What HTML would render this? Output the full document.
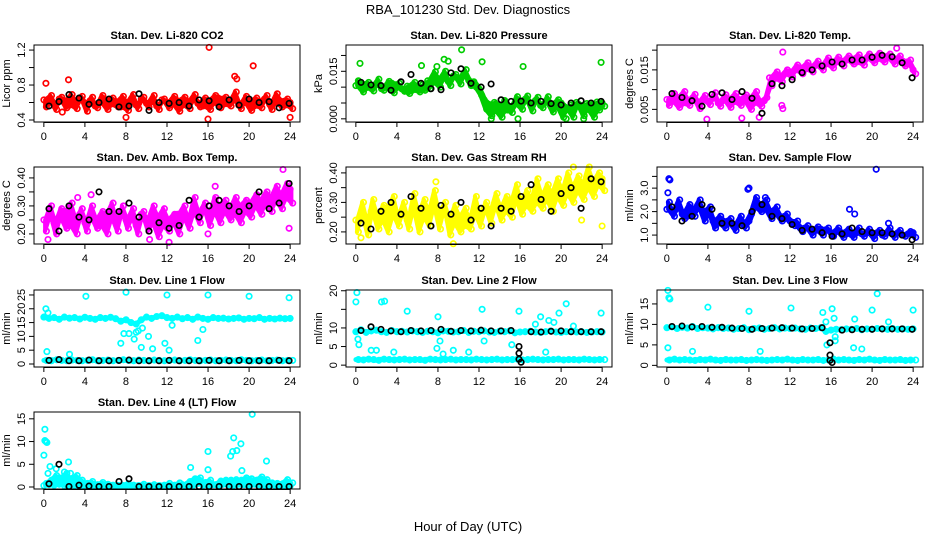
<!DOCTYPE html>
<html><head><meta charset="utf-8">
<style>
body{margin:0;background:#fff;}
svg{display:block;font-family:"Liberation Sans",sans-serif;}
</style></head>
<body>
<svg id="chart" width="936" height="540" viewBox="0 0 936 540" xmlns="http://www.w3.org/2000/svg">
<rect width="936" height="540" fill="#fff"/>
<text x="468" y="14" text-anchor="middle" font-size="13">RBA_101230  Std. Dev. Diagnostics</text>
<text x="468" y="531" text-anchor="middle" font-size="13">Hour of Day (UTC)</text>
<g id="panels"></g>
</svg>
<script>
const xTicks=[0,4,8,12,16,20,24];
// CO2
const co2A=[0.63,0.60,0.58,0.64,0.62,0.57,0.61,0.65,0.59,0.62,0.56,0.60,0.63,0.58,0.61,0.55,0.60,0.62,0.57,0.64,0.59,0.61,0.56,0.63,0.60,0.58,0.62,0.57,0.61,0.64,0.59,0.56,0.62,0.60,0.65,0.58,0.61,0.63,0.57,0.60,0.62,0.56,0.61,0.64,0.58,0.60,0.62,0.57,0.60];
const co2B=[0.55,0.68,0.52,0.66,0.54,0.69,0.53,0.67,0.50,0.66,0.54,0.68,0.52,0.65,0.55,0.67,0.51,0.69,0.53,0.66,0.55,0.68,0.52,0.64,0.54,0.67,0.50,0.66,0.53,0.69,0.55,0.65,0.52,0.68,0.54,0.66,0.56,0.72,0.53,0.67,0.51,0.65,0.54,0.68,0.52,0.70,0.55,0.64,0.53];
const co2Out=[[0.2,0.82],[2.4,0.86],[16.1,1.23],[20.4,1.02],[18.6,0.90],[18.8,0.87],[16,0.41],[24,0.43],[8,0.43],[1.8,0.49]];
const co2Black=[0.56,0.61,0.69,0.65,0.58,0.60,0.64,0.55,0.56,0.70,0.51,0.60,0.59,0.60,0.56,0.63,0.62,0.55,0.63,0.57,0.64,0.60,0.61,0.54,0.59];
const co2Ticks=[0.4,0.6,0.8,1.0,1.2];const co2Labels=["0.4","","0.8","","1.2"];
// Pressure
const prA=[.0105,.0110,.0098,.0102,.0108,.0095,.0100,.0112,.0099,.0094,.0103,.0090,.0098,.0108,.0120,.0115,.0125,.0130,.0118,.0135,.0128,.0140,.0122,.0117,.0095,.0060,.0045,.0052,.0040,.0058,.0035,.0047,.0055,.0062,.0048,.0058,.0042,.0053,.0046,.0038,.0050,.0035,.0044,.0052,.0040,.0048,.0045,.0053,.0050];
const prB=[.0120,.0085,.0115,.0088,.0125,.0090,.0118,.0082,.0112,.0087,.0080,.0115,.0085,.0090,.0095,.0148,.0100,.0150,.0105,.0140,.0110,.0155,.0105,.0100,.0075,.0030,.0010,.0025,.0005,.0028,.0020,.0070,.0030,.0072,.0025,.0068,.0035,.0070,.0022,.0060,.0005,.0030,.0005,.0045,.0010,.0030,.0005,.0028,.0040];
const prOut=[[0.4,.0175],[10.3,.0218],[8.6,.0188],[9.0,.0182],[23.9,.0178],[12.3,.0180],[16.3,.0165],[7.9,.0165],[6.4,.0168],[13.2,0],[15.8,0],[20.5,0],[22.2,0]];
const prBlack=[.0115,.0107,.0105,.0090,.0117,.0140,.0112,.0095,.0092,.0145,.0158,.0112,.0100,.0110,.0060,.0055,.0056,.0050,.0055,.0048,.0044,.0050,.0057,.0050,.0055];
const prTicks=[0,0.005,0.010,0.015,0.020];const prLabels=["0.000","","","0.015",""];
// Li-820 temp
const tpA=[.0075,.0070,.0080,.0065,.0072,.0078,.0068,.0074,.0070,.0080,.0066,.0073,.0076,.0069,.0075,.0071,.0078,.0067,.0070,.0072,.0130,.0128,.0135,.0140,.0145,.0150,.0155,.0152,.0158,.0162,.0160,.0165,.0168,.0170,.0172,.0175,.0178,.0170,.0176,.0180,.0182,.0178,.0185,.0180,.0176,.0178,.0172,.0165,.0150];
const tpB=[.0060,.0090,.0055,.0095,.0060,.0088,.0052,.0085,.0062,.0092,.0058,.0087,.0055,.0090,.0060,.0086,.0050,.0095,.0058,.0080,.0110,.0145,.0120,.0150,.0132,.0162,.0140,.0168,.0145,.0172,.0150,.0180,.0155,.0182,.0160,.0185,.0165,.0188,.0162,.0190,.0168,.0192,.0170,.0190,.0165,.0185,.0160,.0175,.0140];
const tpOut=[[11.3,.0195],[11.2,.0060],[11.3,.0052],[3.9,.0025],[7.3,.0028],[9,.0030],[22.4,.0205]];
const tpBlack=[.0090,.0080,.0072,.0058,.0088,.0092,.0075,.0095,.0078,.0040,.0115,.0110,.0125,.0143,.0150,.0160,.0170,.0165,.0175,.0175,.0182,.0187,.0183,.0168,.0130];
const tpTicks=[0.005,0.010,0.015,0.020];const tpLabels=["0.005","","0.015",""];
// Amb box
const abA=[.25,.27,.24,.26,.28,.23,.25,.27,.24,.26,.25,.23,.27,.26,.24,.28,.25,.26,.23,.27,.25,.24,.26,.23,.25,.24,.27,.26,.25,.28,.27,.29,.27,.28,.30,.28,.29,.27,.30,.28,.31,.30,.32,.31,.33,.32,.34,.33,.36];
const abB=[.21,.30,.20,.29,.22,.31,.20,.29,.21,.30,.22,.28,.20,.31,.21,.30,.22,.29,.20,.28,.21,.30,.19,.29,.21,.27,.20,.30,.22,.33,.24,.31,.23,.33,.24,.32,.25,.33,.24,.32,.26,.34,.27,.35,.28,.37,.29,.38,.31];
const abOut=[[4.6,.34],[23.3,.43],[23.9,.22],[12.2,.17],[10.3,.18],[16,.20],[0.4,.18],[3.3,.33],[16.7,.37]];
const abBlack=[.29,.21,.30,.26,.25,.35,.28,.28,.31,.26,.21,.24,.22,.23,.32,.26,.30,.32,.30,.28,.30,.35,.29,.31,.38];
const abTicks=[0.20,0.25,0.30,0.35,0.40];const abLabels=["0.20","","0.30","","0.40"];
// RH
const rhA=[.24,.26,.23,.27,.25,.24,.28,.26,.25,.27,.24,.28,.26,.25,.27,.29,.26,.28,.24,.23,.25,.22,.24,.26,.25,.28,.27,.29,.28,.27,.30,.31,.30,.29,.31,.30,.32,.31,.33,.32,.34,.33,.35,.34,.36,.35,.37,.36,.38];
const rhB=[.20,.30,.19,.31,.21,.29,.20,.32,.22,.30,.21,.33,.20,.31,.22,.34,.21,.30,.19,.29,.20,.28,.21,.32,.22,.30,.23,.33,.24,.32,.25,.36,.26,.34,.27,.38,.28,.36,.27,.38,.29,.40,.30,.39,.31,.42,.32,.40,.34];
const rhOut=[[9.5,.16],[24,.22],[22,.24],[0.5,.18],[7.8,.37],[21.2,.42]];
const rhBlack=[.23,.21,.27,.30,.26,.32,.28,.22,.29,.26,.30,.24,.28,.22,.28,.27,.32,.36,.31,.27,.33,.35,.28,.38,.37];
const rhTicks=[0.20,0.25,0.30,0.35,0.40];const rhLabels=["0.20","","0.30","","0.40"];
// Sample flow
const sfA=[2.1,2.0,2.2,1.9,1.8,2.1,2.2,2.0,1.9,1.6,1.5,1.6,1.5,1.4,1.5,1.5,1.6,2.2,2.3,2.1,2.0,1.9,1.8,1.7,1.6,1.4,1.3,1.3,1.2,1.2,1.25,1.2,1.1,1.15,1.1,1.05,1.1,1.1,1.05,1.1,1.05,1.1,1.0,1.1,1.05,1.1,1.0,1.05,1.1];
const sfB=[2.4,1.8,2.5,1.7,2.3,1.8,2.5,1.6,2.2,1.3,1.8,1.3,1.7,1.2,1.8,1.3,1.9,2.6,2.0,2.5,1.7,2.2,1.6,1.9,1.5,1.6,1.15,1.4,1.0,1.35,1.0,1.3,0.95,1.3,0.9,1.25,0.9,1.3,0.95,1.25,0.85,1.2,0.95,1.3,0.9,1.2,0.95,1.15,0.9];
const sfOut=[[0.2,3.4],[0.3,3.35],[0.1,2.8],[7.9,2.95],[8,3.0],[9.6,2.6],[20.4,3.8],[18.3,1.9],[21.6,1.5],[17.8,2.1]];
const sfBlack=[2.2,1.6,1.8,2.3,2.1,1.5,1.5,1.4,2.0,2.3,1.8,1.7,1.45,1.2,1.25,1.1,0.95,1.05,1.3,1.15,1.1,1.1,1.05,1.0,0.8];
const sfTicks=[1.0,1.5,2.0,2.5,3.0,3.5];const sfLabels=["1.0","","2.0","","3.0",""];
// Line 1
const l1A=[17,16.5,16.8,16.2,17,16.6,16.8,16.3,16.9,16.5,16.2,16.8,16.5,16.9,16.4,15.5,16,15,14.5,16,17,16.5,17.2,17.5,16.8,16.5,17,16.4,16.8,16.2,17,16.5,16.2,16.8,16.5,16.6,16.3,16.5,16.7,16.2,16.5,16.4,16.8,16.2,16.5,16.3,16.6,16.4,16.5];
const l1B=[1.3,1.2,1.5,1.3,1.2,1.4,1.3,1.2,1.3,1.5,1.2,1.3,1.4,1.2,1.3,1.5,1.3,1.2,1.4,1.3,1.2,1.4,1.3,1.2,1.3,1.4,1.2,1.3,1.5,1.3,1.2,1.3,1.4,1.2,1.3,1.4,1.3,1.2,1.5,1.3,1.2,1.3,1.4,1.2,1.3,1.4,1.2,1.3,1.3];
const l1Out=[[0.2,20],[0.4,18.5],[0.3,4.5],[4.1,24.5],[8,26],[12,25],[16,25],[20,24.5],[23.9,24],[7.5,7.5],[8.3,11],[8.8,9],[9.2,12],[10.2,10],[11.8,7.5],[12.2,5],[15,8.5],[15.5,12.5],[9.5,6],[10.6,5.5],[2.5,3.5],[9.6,13],[7.8,11],[12.5,14],[9,11.5]];
const l1Black=[1.3,1.6,1.2,1.2,1.4,1.2,1.2,1.3,1.4,1.2,1.2,1.2,1.3,1.2,1.2,1.2,1.3,1.2,1.2,1.3,1.2,1.2,1.2,1.3,1.2];
const l1Ticks=[0,5,10,15,20,25];const l1Labels=["0","5","10","15","20","25"];
// Line 2
const l2A=[9,9.5,8.8,9.2,9.4,9,8.8,9.3,9,9.1,8.9,9.2,9,8.8,9.1,9,8.7,9.2,9.1,8.9,9,9.3,8.8,9.1,9,9.2,8.9,8.8,9.1,9,9.2,8.7,8.9,9,9.1,8.9,8.8,9,9.2,8.9,8.8,9,9.1,8.9,9,8.8,8.9,9,8.9];
const l2B=[1.5,1.4,1.6,1.5,1.3,1.6,1.5,1.4,1.5,1.6,1.4,1.5,1.5,1.3,1.6,1.5,1.4,1.5,1.6,1.4,1.5,1.5,1.4,1.6,1.5,1.4,1.5,1.6,1.4,1.5,1.5,1.6,1.4,1.5,1.6,1.5,1.4,1.5,1.5,1.6,1.4,1.5,1.5,1.4,1.6,1.5,1.4,1.5,1.5];
const l2Out=[[0.1,19.5],[0,17],[2.5,17],[2.8,17.2],[5,14.5],[8,13],[12.3,15],[15.9,14.5],[20.5,16.5],[18,13],[19.8,14],[23.9,14],[0.3,5.5],[0.2,7],[1.5,4],[2,4],[3.7,3.5],[7.9,4.5],[8.2,6.5],[8.5,3],[9.5,4],[11,3.5],[12.5,6.5],[15.2,5.5],[17.5,11],[18.8,12],[19.3,11.5],[18.5,3.5],[21.2,10.5]];
const l2Black=[9.3,10.3,9.6,9.2,9.0,9.3,9.2,9.3,9.6,9.1,9.3,9.2,9.4,9.2,9.2,9.3,0.8,9.0,8.9,9.1,9.2,9.0,9.0,9.0,9.0];
const l2BlackOut=[[15.9,5],[15.9,3.2],[15.9,1.6]];
const l2Ticks=[0,5,10,15,20];const l2Labels=["0","5","10","","20"];
// Line 3
const l3A=[9.2,9.4,9,9.3,9.1,9.5,9,9.2,9.1,8.9,9.2,9,9.1,8.8,9,9.2,8.7,9,9.1,8.8,9,9.2,8.9,9.1,9,9.1,8.9,8.8,9.1,9,9.2,8.3,8.6,8.8,8.7,8.9,8.8,9,8.7,8.9,8.8,9,8.9,8.8,9,8.8,8.9,8.8,8.9];
const l3B=[1.3,1.5,1.3,1.4,1.3,1.2,1.4,1.3,1.5,1.3,1.2,1.4,1.3,1.3,1.4,1.2,1.3,1.4,1.3,1.2,1.3,1.4,1.3,1.5,1.3,1.2,1.4,1.3,1.3,1.4,1.2,1.3,1.5,1.3,1.4,1.3,1.2,1.4,1.3,1.5,1.3,1.2,1.4,1.3,1.3,1.4,1.2,1.3,1.3];
const l3Out=[[0.1,18.3],[0.2,16.5],[0.3,16.2],[0.1,4.3],[4,14.2],[8,13.2],[12.1,14],[15.2,12.9],[20,13.5],[20.5,17.5],[24,13.5],[16.1,13.8],[16.3,11.5],[16.4,7],[16.4,6],[15.6,5],[18.3,11.3],[18.2,4.3],[19,4],[21.6,10.6],[2.5,3.4],[9.1,3.4],[15.5,10.6]];
const l3Black=[9.5,9.6,9.4,9.5,9.3,9.3,9.1,9.0,8.8,9.0,9.1,9.2,9.1,8.9,9.0,9.2,0.7,8.6,8.7,8.8,8.8,8.9,8.9,8.9,8.8];
const l3BlackOut=[[15.9,5.5],[15.9,2.5],[15.9,1.2]];
const l3Ticks=[0,5,10,15];const l3Labels=["0","5","10","15"];
// Line 4
const l4A=[0.3,0.5,0.4,0.6,0.3,0.4,0.3,0.2,0.3,0.2,0.3,0.2,0.2,0.3,0.2,0.2,0.3,0.2,0.2,0.2,0.2,0.2,0.2,0.2,0.3,0.2,0.3,0.5,0.2,0.3,0.8,0.4,0.3,0.5,0.4,0.6,0.5,0.4,0.6,0.5,0.4,0.6,0.5,0.4,0.3,0.4,0.3,0.2,0.2];
const l4B=[0.8,1.5,2.5,2,3,1.8,2.5,1.5,0.8,1.2,0.5,1,0.6,0.4,0.3,0.3,0.7,0.4,0.3,0.6,0.3,0.5,0.3,0.4,0.8,0.4,0.9,0.3,1.2,1.8,2,1,1.5,0.5,1.3,1.5,1.5,1.6,1.5,2,1.8,1.5,2.2,1.6,0.9,0.8,0.7,1.6,0.9];
const l4Out=[[0.1,12.7],[0.1,10.2],[0.2,10],[0.3,9.8],[0,7],[0.6,4.5],[0.4,3],[1.2,4],[2.4,5.5],[14.3,4.3],[16,7.8],[16,3.8],[18.2,6.8],[18.5,10.8],[18.4,7.8],[18.8,8],[19.2,9.5],[20.3,16],[21.7,5.7],[19.3,3.6],[2,3.3],[2.6,3]];
const l4Black=[0.7,5,0.1,0.4,0.2,0.1,0.1,1.2,1.8,0.1,0.1,0.1,0.1,0.1,0.1,0.1,0.1,0.1,0.1,0.1,0.1,0.1,0.1,0.1,0.1];
const l4Ticks=[0,5,10,15];const l4Labels=["0","5","10","15"];

const NS="http://www.w3.org/2000/svg";
const root=document.getElementById('panels');
function mk(tag,attrs,parent){const e=document.createElementNS(NS,tag);for(const k in attrs)e.setAttribute(k,attrs[k]);(parent||root).appendChild(e);return e;}

const panels=[
 {id:'co2',title:'Stan. Dev. Li-820 CO2',yl:'Licor ppm',col:'#ff0000',c:0,r:0,dom:[0.377,1.258],A:co2A,B:co2B,O:co2Out,K:co2Black,KO:[],t:co2Ticks,l:co2Labels,band:true},
 {id:'pressure',title:'Stan. Dev. Li-820 Pressure',yl:'kPa',col:'#00cd00',c:1,r:0,dom:[-0.001,0.0233],A:prA,B:prB,O:prOut,K:prBlack,KO:[],t:prTicks,l:prLabels,band:true},
 {id:'li820-temp',title:'Stan. Dev. Li-820 Temp.',yl:'degrees C',col:'#ff00ff',c:2,r:0,dom:[0.0018,0.0213],A:tpA,B:tpB,O:tpOut,K:tpBlack,KO:[],t:tpTicks,l:tpLabels,band:true},
 {id:'amb-box-temp',title:'Stan. Dev. Amb. Box Temp.',yl:'degrees C',col:'#ff00ff',c:0,r:1,dom:[0.164,0.439],A:abA,B:abB,O:abOut,K:abBlack,KO:[],t:abTicks,l:abLabels,band:true},
 {id:'gas-rh',title:'Stan. Dev. Gas Stream RH',yl:'percent',col:'#ffff00',c:1,r:1,dom:[0.159,0.42],A:rhA,B:rhB,O:rhOut,K:rhBlack,KO:[],t:rhTicks,l:rhLabels,band:true},
 {id:'sample-flow',title:'Stan. Dev. Sample Flow',yl:'ml/min',col:'#0000ff',c:2,r:1,dom:[0.62,3.9],A:sfA,B:sfB,O:sfOut,K:sfBlack,KO:[],t:sfTicks,l:sfLabels,band:true},
 {id:'line1-flow',title:'Stan. Dev. Line 1 Flow',yl:'ml/min',col:'#00ffff',c:0,r:2,dom:[-1.09,26.8],A:l1A,B:l1B,O:l1Out,K:l1Black,KO:[],t:l1Ticks,l:l1Labels,band:false},
 {id:'line2-flow',title:'Stan. Dev. Line 2 Flow',yl:'ml/min',col:'#00ffff',c:1,r:2,dom:[-0.5,20.2],A:l2A,B:l2B,O:l2Out,K:l2Black,KO:l2BlackOut,t:l2Ticks,l:l2Labels,band:false},
 {id:'line3-flow',title:'Stan. Dev. Line 3 Flow',yl:'ml/min',col:'#00ffff',c:2,r:2,dom:[-0.4,18.4],A:l3A,B:l3B,O:l3Out,K:l3Black,KO:l3BlackOut,t:l3Ticks,l:l3Labels,band:false},
 {id:'line4-flow',title:'Stan. Dev. Line 4 (LT) Flow',yl:'ml/min',col:'#00ffff',c:0,r:3,dom:[-0.44,16.5],A:l4A,B:l4B,O:l4Out,K:l4Black,KO:[],t:l4Ticks,l:l4Labels,band:true}
];
const colL=[34,346,657], W=266, rowT=[45,167,290,412], H=77;

panels.forEach(p=>{
 const L=colL[p.c], T=rowT[p.r];
 const g=mk('g',{});
 
 
 const xs=v=>L+W*(v+0.96)/25.92;
 const ys=v=>T+H-H*(v-p.dom[0])/(p.dom[1]-p.dom[0]);
 const pts=mk('g',{},g);
 
 
 if(p.band){
  const top=[],bot=[];
  p.A.forEach((v,i)=>{
   const b=p.B[i];
   const x=xs(i*0.5+0.125).toFixed(1);
   top.push(x+','+ys(Math.max(v,b)).toFixed(1));
   bot.unshift(x+','+ys(Math.min(v,b)).toFixed(1));
  });
  const poly=mk('polygon',{points:top.concat(bot).join(' '),fill:p.col,stroke:p.col,'stroke-width':4,'stroke-linejoin':'round'},pts);
  
  
 } else {
  [p.A,p.B].forEach(arr=>{
   const d=arr.map((v,i)=>xs(i*0.5).toFixed(1)+','+ys(v).toFixed(1)).join(' ');
   const pl=mk('polyline',{points:d,fill:'none',stroke:p.col,'stroke-width':5,'stroke-linecap':'round','stroke-linejoin':'round'},pts);
   
   
  });
 }
 const dot=(x,y,c,nm)=>{const e=mk('circle',{cx:xs(x).toFixed(1),cy:ys(y).toFixed(1),r:2.7,fill:'none',stroke:c,'stroke-width':1.7},pts);
  
  };
 p.A.forEach((v,i)=>dot(i*0.5,v,p.col,'point'));
 p.B.forEach((v,i)=>dot(i*0.5+0.25,v,p.col,'point'));
 p.O.forEach(o=>dot(o[0],o[1],p.col,'outlier-point'));
 p.K.forEach((v,i)=>dot(0.5+i*0.975,v,'#000','hourly-point'));
 p.KO.forEach(o=>dot(o[0],o[1],'#000','hourly-point'));
 const box=mk('rect',{x:L,y:T,width:W,height:H,fill:'none',stroke:'#000','stroke-width':1},g);
 
 
 const tt=mk('text',{x:L+W/2,y:T-6,'text-anchor':'middle','font-size':11,'font-weight':'bold'},g);
 tt.textContent=p.title;
 
 
 xTicks.forEach(t=>{
  const x=xs(t);
  mk('line',{x1:x,x2:x,y1:T+H,y2:T+H+5,stroke:'#000'},g);
  const tx=mk('text',{x:x,y:T+H+18,'text-anchor':'middle','font-size':11},g);
  tx.textContent=t;
  
  
 });
 mk('line',{x1:xs(0),x2:xs(24),y1:T+H+0.5,y2:T+H+0.5,stroke:'#000'},g);
 p.t.forEach((t,i)=>{
  const y=ys(t);
  mk('line',{x1:L-5,x2:L,y1:y,y2:y,stroke:'#000'},g);
  if(p.l[i]){
   const ty=mk('text',{x:L-9,y:y,'text-anchor':'middle','font-size':11,transform:`rotate(-90 ${L-9} ${y})`},g);
   ty.textContent=p.l[i];
   
   
  }
 });
 const yt=mk('text',{x:L-24,y:T+H/2,'text-anchor':'middle','font-size':11,transform:`rotate(-90 ${L-24} ${T+H/2})`},g);
 yt.textContent=p.yl;
 
 
});
</script>
</body></html>
